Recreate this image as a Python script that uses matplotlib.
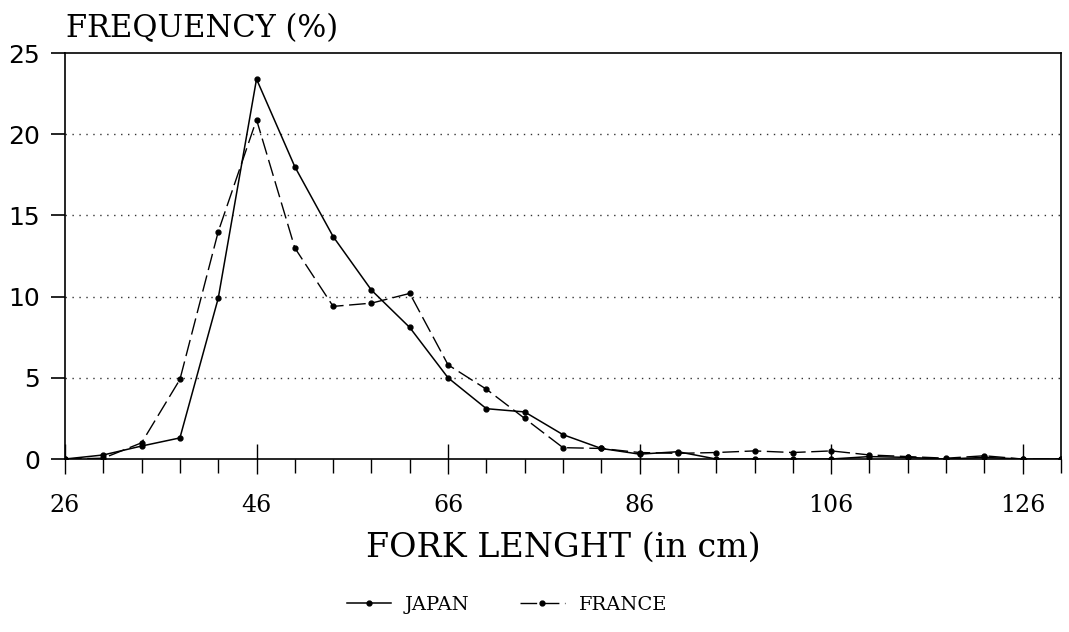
import matplotlib
matplotlib.use('Agg')
import matplotlib.pyplot as plt
from matplotlib.ticker import FixedLocator
import numpy as np

# length classes (cm) and frequency (%) per fleet
length_cm = [26, 30, 34, 38, 42, 46, 50, 54, 58, 62, 66, 70, 74, 78,
             82, 86, 90, 94, 98, 102, 106, 110, 114, 118, 122, 126, 130]
japan = [0.0, 0.25, 0.8, 1.3, 9.9, 23.4, 18.0, 13.7, 10.4, 8.1, 5.0, 3.1, 2.9, 1.5,
         0.65, 0.3, 0.45, 0.0, 0.0, 0.0, 0.0, 0.15, 0.1, 0.0, 0.1, 0.0, 0.0]
france = [0.0, 0.05, 1.0, 4.9, 14.0, 20.9, 13.0, 9.4, 9.6, 10.2, 5.8, 4.3, 2.5, 0.7,
          0.65, 0.4, 0.35, 0.4, 0.5, 0.4, 0.5, 0.25, 0.15, 0.05, 0.2, 0.0, 0.0]
x_labels = [26, 46, 66, 86, 106, 126]
y_ticks = [0, 5, 10, 15, 20, 25]

serif = 'DejaVu Serif'
sans = 'DejaVu Sans'

fig = plt.figure(figsize=(10.69, 6.32), dpi=100)
ax = fig.add_axes([0.0608, 0.2737, 0.9317, 0.6423])

ax.plot(length_cm, japan, color='black', lw=1.1, marker='o', ms=3.5, label='JAPAN')
ax.plot(length_cm, france, color='black', lw=1.0, marker='o', ms=3.5,
        dashes=(12, 4), label='FRANCE')

ax.set_xlim(26, 130)
ax.set_ylim(0, 25)

# dotted reference lines
for yv in y_ticks[1:-1]:
    ax.axhline(yv, color='#333333', lw=1.0, linestyle=(0, (1, 4)), zorder=0)

ax.set_yticks(y_ticks)
ax.set_xticks(x_labels)
ax.xaxis.set_minor_locator(FixedLocator(np.arange(26, 131, 4)))
ax.tick_params(axis='x', which='major', direction='inout', length=22, width=1, pad=14)
ax.tick_params(axis='x', which='minor', direction='out', length=10, width=1)
ax.tick_params(axis='y', direction='out', length=10, width=1.2, pad=8)
for lab in ax.get_xticklabels():
    lab.set_fontfamily(serif)
    lab.set_fontsize(17)
for lab in ax.get_yticklabels():
    lab.set_fontfamily(sans)
    lab.set_fontsize(18)

for s in ax.spines.values():
    s.set_linewidth(1.2)

ax.set_xlabel('FORK LENGHT (in cm)', fontfamily=serif, fontsize=24, labelpad=11)
fig.text(0.062, 0.955, 'FREQUENCY (%)', fontfamily=serif, fontsize=22, va='center')

leg = fig.legend(loc='center', bbox_to_anchor=(0.474, 0.043), ncol=2, frameon=False,
                 prop={'family': serif, 'size': 14}, handlelength=2.3,
                 handletextpad=0.7, columnspacing=2.6)

plt.savefig('out.png', dpi=100)
